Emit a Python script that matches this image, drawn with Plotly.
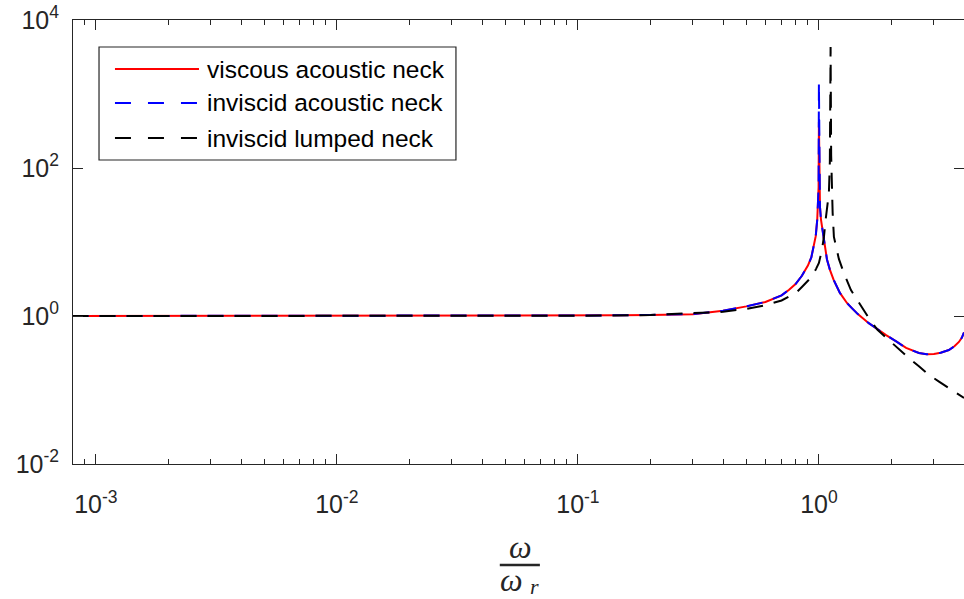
import plotly.graph_objects as go

# Normalised frequency omega / omega_r and pressure ratio magnitudes
freq_acoustic = [8e-4, 0.01, 0.05, 0.1, 0.15, 0.2, 0.3, 0.4, 0.5, 0.6,
                 0.7, 0.75, 0.8, 0.85, 0.9, 0.93, 0.953, 0.97, 0.984, 0.993,
                 0.997, 1.0, 1.003, 1.01, 1.02, 1.039, 1.059, 1.08, 1.111, 1.15,
                 1.222, 1.307, 1.37, 1.45, 1.61, 1.75, 1.90, 2.1, 2.30, 2.60,
                 2.8, 3.0, 3.2, 3.46, 3.65, 3.81, 3.92, 4.0]
viscous_acoustic = [1.0, 1.0, 1.0025, 1.01, 1.02, 1.035, 1.06, 1.18, 1.35, 1.55,
                    1.9, 2.25, 2.7, 3.5, 4.8, 6.2, 8.6, 12, 20, 35,
                    55, 420, 55, 30, 20, 13, 7.8, 5.8, 4.2, 3.1,
                    2.05, 1.5, 1.28, 1.06, 0.80, 0.66, 0.553, 0.45, 0.37, 0.316,
                    0.305, 0.306, 0.318, 0.347, 0.39, 0.446, 0.51, 0.6]
inviscid_acoustic = [1.0, 1.0, 1.0025, 1.01, 1.02, 1.035, 1.06, 1.18, 1.35, 1.55,
                     1.9, 2.25, 2.7, 3.5, 4.8, 6.2, 8.6, 12, 20, 35,
                     55, 1400, 55, 30, 20, 13, 7.8, 5.8, 4.2, 3.1,
                     2.05, 1.5, 1.28, 1.06, 0.80, 0.66, 0.553, 0.45, 0.37, 0.316,
                     0.305, 0.306, 0.318, 0.347, 0.39, 0.446, 0.51, 0.6]

freq_lumped = [8e-4, 0.01, 0.05, 0.1, 0.2, 0.3, 0.4, 0.5, 0.6, 0.7,
               0.751, 0.803, 0.85, 0.9, 0.935, 0.972, 1.0, 1.029, 1.05, 1.066,
               1.085, 1.10, 1.11, 1.118, 1.124, 1.129, 1.14, 1.154, 1.18, 1.21,
               1.27, 1.358, 1.45, 1.61, 1.75, 1.95, 2.15, 2.36, 2.6, 2.86,
               3.15, 3.46, 3.75, 4.0]
inviscid_lumped = [1.0, 1.0, 1.002, 1.008, 1.03, 1.08, 1.14, 1.25, 1.40, 1.62,
                   1.81, 2.05, 2.47, 3.0, 3.4, 4.3, 5.2, 7.8, 12, 19.8,
                   30, 46, 120, 4300, 150, 55, 25, 11.7, 8.0, 5.9,
                   3.8, 2.24, 1.6, 0.94, 0.65, 0.474, 0.35, 0.27, 0.21, 0.16,
                   0.13, 0.106, 0.09, 0.078]

series_names = ["viscous acoustic neck", "inviscid acoustic neck", "inviscid lumped neck"]
series_colors = ["#ff0000", "#0000ff", "#000000"]
series_dash = ["solid", "16px,11px", "16px,11px"]

x_tick_vals = [1e-3, 1e-2, 1e-1, 1]
x_tick_text = ["10<sup>-3</sup>", "10<sup>-2</sup>", "10<sup>-1</sup>", "10<sup>0</sup>"]
y_tick_vals = [1e-2, 1, 1e2, 1e4]
y_tick_text = ["10<sup>-2</sup>", "10<sup>0</sup>", "10<sup>2</sup>", "10<sup>4</sup>"]

AX = "#262626"
FONT = "Liberation Sans, Arial, Helvetica, sans-serif"
SERIF = "Liberation Serif, Times New Roman, serif"

fig = go.Figure()
data = [(freq_acoustic, viscous_acoustic), (freq_acoustic, inviscid_acoustic),
        (freq_lumped, inviscid_lumped)]
for (xs, ys), name, col, dash in zip(data, series_names, series_colors, series_dash):
    fig.add_trace(go.Scatter(x=xs, y=ys, mode="lines", name=name,
                             line=dict(color=col, width=2, dash=dash),
                             showlegend=False))

minor_vals = [m * 10.0 ** e for e in range(-4, 1) for m in range(2, 10)]

axis_common = dict(ticks="inside", ticklen=10, tickwidth=1, tickcolor=AX,
                   showline=True, linecolor=AX, linewidth=1, mirror="ticks",
                   showgrid=False, zeroline=False,
                   tickfont=dict(family=FONT, size=25, color=AX))

fig.update_layout(
    width=964, height=599,
    margin=dict(l=73, r=0, t=20, b=135),
    plot_bgcolor="white", paper_bgcolor="white",
    font=dict(family=FONT, color=AX),
    xaxis=dict(type="log", range=[-3.095, 0.602],
               tickvals=x_tick_vals, ticktext=x_tick_text,
               ticklabelstandoff=18,
               minor=dict(tickvals=minor_vals, ticks="inside", ticklen=5,
                          tickcolor=AX, tickwidth=1, showgrid=False),
               **axis_common),
    yaxis=dict(type="log", range=[-2, 4],
               tickvals=y_tick_vals, ticktext=y_tick_text,
               ticklabelstandoff=8,
               **axis_common),
)

# Legend box drawn in the upper-left corner of the axes
fig.add_shape(type="rect", xref="paper", yref="paper",
              x0=0.0292, x1=0.4298, y0=0.6847, y1=0.9392,
              line=dict(color=AX, width=1.2), fillcolor="white", layer="above")
legend_rows = [0.8896, 0.8131, 0.7342]
for yrow, name, col, dash in zip(legend_rows, series_names, series_colors, series_dash):
    fig.add_shape(type="line", xref="paper", yref="paper",
                  x0=0.0471, x1=0.1414, y0=yrow, y1=yrow,
                  line=dict(color=col, width=2,
                            dash="solid" if dash == "solid" else "16px,17px"),
                  layer="above")
    fig.add_annotation(xref="paper", yref="paper", x=0.1481, y=yrow,
                       text=name, showarrow=False, xanchor="left", yanchor="middle",
                       font=dict(family=FONT, size=24.5, color="#000000"))

# x-axis label: omega over omega_r as a stacked fraction
fig.add_annotation(xref="paper", yref="paper", x=0.5017, y=-0.188,
                   text="<i>ω</i>", showarrow=False, xanchor="center", yanchor="middle",
                   font=dict(family=SERIF, size=32, color=AX))
fig.add_shape(type="line", xref="paper", yref="paper",
              x0=0.479, x1=0.524, y0=-0.2275, y1=-0.2275,
              line=dict(color=AX, width=2.5))
fig.add_annotation(xref="paper", yref="paper", x=0.4923, y=-0.262,
                   text="<i>ω</i>", showarrow=False, xanchor="center", yanchor="middle",
                   font=dict(family=SERIF, size=32, color=AX))
fig.add_annotation(xref="paper", yref="paper", x=0.5185, y=-0.277,
                   text="<i>r</i>", showarrow=False, xanchor="center", yanchor="middle",
                   font=dict(family=SERIF, size=22, color=AX))

fig.write_html("out.html")
